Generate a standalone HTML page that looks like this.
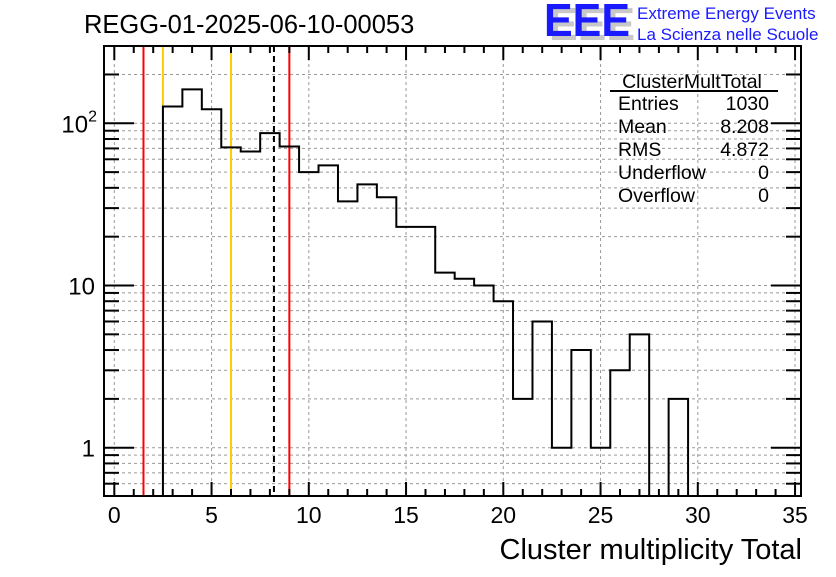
<!DOCTYPE html>
<html><head><meta charset="utf-8"><style>
body{margin:0;background:#fff;width:836px;height:572px;overflow:hidden;font-family:"Liberation Sans",sans-serif}
svg text{font-family:"Liberation Sans",sans-serif}
</style></head><body>
<svg id="chart" width="836" height="572" xmlns="http://www.w3.org/2000/svg">
<rect width="836" height="572" fill="#fff"/>
<g id="grid"></g>
<g id="refs"></g>
<g id="marks"></g>
<g id="axes"></g>
<text x="84" y="33" font-size="25.5">REGG-01-2025-06-10-00053</text>
<g>
<text x="549" y="40" font-size="46" font-weight="bold" fill="#c8c8c8" textLength="86" lengthAdjust="spacingAndGlyphs">EEE</text>
<text x="544" y="36" font-size="46" font-weight="bold" fill="#1a1aff" textLength="86" lengthAdjust="spacingAndGlyphs">EEE</text>
<text x="637" y="19" font-size="17" fill="#1a1aff">Extreme Energy Events</text>
<text x="637" y="40" font-size="17" fill="#1a1aff">La Scienza nelle Scuole</text>
</g>
<g font-size="19.5">
<text x="692" y="88" text-anchor="middle">ClusterMultTotal</text>
<line x1="610" y1="91" x2="778" y2="91" stroke="#000" stroke-width="2"/>
<text x="618" y="110">Entries</text><text x="769" y="110" text-anchor="end">1030</text>
<text x="618" y="133">Mean</text><text x="769" y="133" text-anchor="end">8.208</text>
<text x="618" y="156">RMS</text><text x="769" y="156" text-anchor="end">4.872</text>
<text x="618" y="179">Underflow</text><text x="769" y="179" text-anchor="end">0</text>
<text x="618" y="202">Overflow</text><text x="769" y="202" text-anchor="end">0</text>
</g>
<text x="802" y="559" font-size="29" text-anchor="end">Cluster multiplicity Total</text>
</svg>
<script>
const binCenters=[3,4,5,6,7,8,9,10,11,12,13,14,15,16,17,18,19,20,21,22,23,24,25,26,27,28,29];
const counts=[127,162,122,71,67,87,72,50,55,33,42,35,23,23,12,11,10,8,2,6,1,4,1,3,5,0,2];
const xTicks=[0,5,10,15,20,25,30,35];
const yDecades=[1,10,100];
const yDecadeLabels=["1","10","10²"];
const refLines=[1.5,2.5,6.0,8.208,9.0];
const refColors=["#ff0000","#ffcc00","#ffcc00","#000000","#ff0000"];

const L=104,R=801,T=46,B=496;
const X=v=>114.3+v*19.45;
const Y=v=>447.7-Math.log10(v)*162.2;
const NS="http://www.w3.org/2000/svg";
function mk(tag,attrs,parent){const e=document.createElementNS(NS,tag);for(const k in attrs)e.setAttribute(k,attrs[k]);parent.appendChild(e);return e;}
const grid=document.getElementById('grid'),marks=document.getElementById('marks'),axes=document.getElementById('axes'),refs=document.getElementById('refs');
xTicks.forEach(t=>{const l=mk('line',{x1:X(t),x2:X(t),y1:T,y2:B,stroke:'#999','stroke-dasharray':'3,3','stroke-width':1},grid);

});
const yMinor=[];
[0.1,1,10,100].forEach(d=>{for(let m=1;m<10;m++){const v=d*m;const y=Y(v);if(y>T&&y<B)yMinor.push(v);}});
yMinor.forEach(v=>{const l=mk('line',{x1:L,x2:R,y1:Y(v),y2:Y(v),stroke:'#999','stroke-dasharray':'3,3','stroke-width':1},grid);

});
refLines.forEach((v,i)=>{const a={x1:X(v),x2:X(v),y1:T,y2:B,stroke:refColors[i],'stroke-width':2};if(refColors[i]=='#000000')a['stroke-dasharray']='6,4';
 const l=mk('line',a,refs);
 
 });
let d='',started=false;
binCenters.forEach((c,i)=>{const v=counts[i];const y=v>0?Y(v):B;const x0=X(c-0.5),x1=X(c+0.5);
 if(!started){d+=`M${x0},${B}L${x0},${y}`;started=true;}else d+=`L${x0},${y}`;d+=`L${x1},${y}`;});
d+=`L${X(binCenters[binCenters.length-1]+0.5)},${B}`;
const h=mk('path',{d:d,fill:'none',stroke:'#000','stroke-width':2},marks);


const f=mk('rect',{x:L,y:T,width:R-L,height:B-T,fill:'none',stroke:'#000','stroke-width':2},axes);


for(let t=0;t<=35;t++){const big=t%5==0;const x=X(t);
 mk('line',{x1:x,x2:x,y1:B,y2:B-(big?14:7),stroke:'#000','stroke-width':2},axes);
 mk('line',{x1:x,x2:x,y1:T,y2:T+(big?14:7),stroke:'#000','stroke-width':2},axes);}
xTicks.forEach(t=>{const tx=mk('text',{x:X(t),y:523,'font-size':23,'text-anchor':'middle'},axes);tx.textContent=t;
 
 });
yMinor.forEach(v=>{const big=yDecades.includes(Math.round(v*1000)/1000);const y=Y(v);
 mk('line',{x1:L,x2:L+(big?30:15),y1:y,y2:y,stroke:'#000','stroke-width':2},axes);
 mk('line',{x1:R,x2:R-(big?30:15),y1:y,y2:y,stroke:'#000','stroke-width':2},axes);});
yDecades.forEach((v,i)=>{const tx=mk('text',{x:i==2?97:95,y:Y(v)+9,'font-size':24,'text-anchor':'end'},axes);
 if(i==2){tx.textContent='10';const s=mk('tspan',{dy:-11,'font-size':16},tx);s.textContent='2';}else tx.textContent=yDecadeLabels[i];
 
 });
</script>
</body></html>
